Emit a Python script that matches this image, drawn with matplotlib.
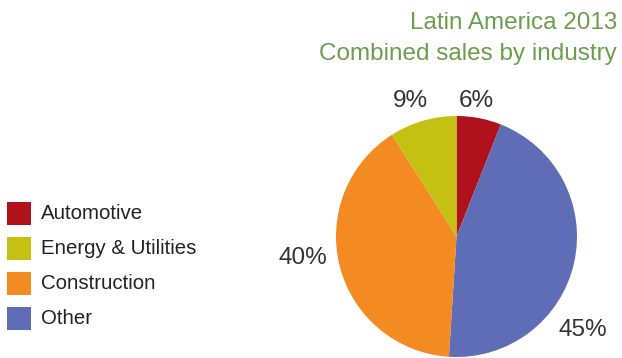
import matplotlib
matplotlib.use("Agg")
import matplotlib.pyplot as plt
from matplotlib.patches import Rectangle

plt.rcParams["font.family"] = ["Liberation Sans", "DejaVu Sans"]

# Share of combined sales, in the order the slices run clockwise from 12 o'clock
slice_names = ["Automotive", "Other", "Construction", "Energy & Utilities"]
slice_values = [6, 45, 40, 9]
slice_colors = ["#b0121b", "#5e6db5", "#f38a22", "#c5c113"]

# Legend entries, top to bottom
legend_names = ["Automotive", "Energy & Utilities", "Construction", "Other"]

title_lines = ["Latin America 2013", "Combined sales by industry"]

W, H = 622, 358
fig = plt.figure(figsize=(W / 100, H / 100), dpi=100)
fig.patch.set_facecolor("white")

# Pie axes: centre (456.5, 236.5) px from top-left, radius 120.5 px
cx, cy, r = 456.5, 236.5, 120.5
ax = fig.add_axes([(cx - r) / W, (H - cy - r) / H, 2 * r / W, 2 * r / H])
wedges, _ = ax.pie(slice_values, colors=slice_colors, startangle=90,
                   counterclock=False, radius=1.0,
                   wedgeprops=dict(linewidth=0))
ax.set_xlim(-1, 1)
ax.set_ylim(-1, 1)
ax.set_aspect("equal")
ax.axis("off")

# Percentage labels (pixel positions of label centres)
label_px = {"Automotive": (476, 101), "Energy & Utilities": (410.5, 101),
            "Construction": (303, 257.5), "Other": (583, 330.5)}
for name, val in zip(slice_names, slice_values):
    px, py = label_px[name]
    fig.text(px / W, 1 - py / H, f"{val}%", ha="center", va="center",
             fontsize=17.5, color="#333333")

# Title, right-aligned
fig.text(617 / W, 1 - 23 / H, title_lines[0], ha="right", va="center",
         fontsize=17.5, color="#6c9e4e")
fig.text(617 / W, 1 - 54 / H, title_lines[1], ha="right", va="center",
         fontsize=17.5, color="#6c9e4e")

# Legend with square swatches
color_of = dict(zip(slice_names, slice_colors))
for i, name in enumerate(legend_names):
    yc = 213.5 + 35 * i
    fig.patches.append(Rectangle((7 / W, 1 - (yc + 11.5) / H), 24 / W, 23 / H,
                                 transform=fig.transFigure,
                                 facecolor=color_of[name], edgecolor="none"))
    fig.text(41 / W, 1 - yc / H, name, ha="left", va="center",
             fontsize=14.7, color="#222222")

fig.savefig("out.png", dpi=100, facecolor="white")
